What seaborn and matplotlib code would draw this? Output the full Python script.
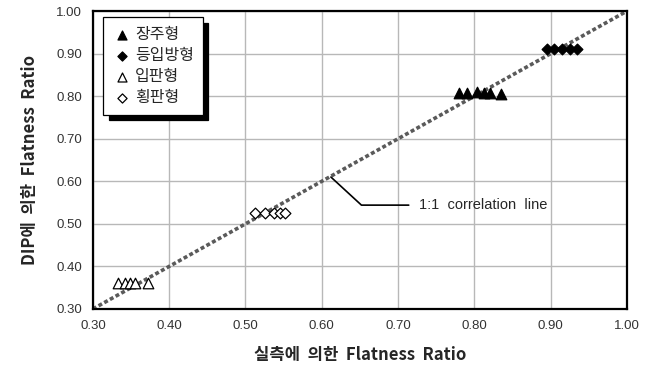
import matplotlib.pyplot as plt
import seaborn as sns
import pandas as pd
import numpy as np

# 장주형 (filled triangles)
jangju_x = [0.780, 0.790, 0.803, 0.812, 0.820, 0.835]
jangju_y = [0.808, 0.808, 0.810, 0.808, 0.808, 0.806]
# 등입방형 (filled diamonds)
deung_x = [0.895, 0.905, 0.915, 0.925, 0.935]
deung_y = [0.910, 0.910, 0.910, 0.910, 0.910]
# 입판형 (open triangles)
ippan_x = [0.333, 0.342, 0.348, 0.355, 0.372]
ippan_y = [0.362, 0.362, 0.362, 0.362, 0.362]
# 횡판형 (open diamonds)
hoeng_x = [0.512, 0.525, 0.538, 0.545, 0.552]
hoeng_y = [0.525, 0.525, 0.525, 0.525, 0.525]

ticks = [0.30, 0.40, 0.50, 0.60, 0.70, 0.80, 0.90, 1.00]

sns.set_style("white")
plt.rcParams['font.family'] = ['Noto Sans CJK KR', 'DejaVu Sans']

fig = plt.figure(figsize=(6.45, 3.7), dpi=100)
ax = fig.add_axes([0.144, 0.165, 0.828, 0.805])

groups = [
    ("장주형", jangju_x, jangju_y, "^", "black", 58),
    ("등입방형", deung_x, deung_y, "D", "black", 30),
    ("입판형", ippan_x, ippan_y, "^", "white", 58),
    ("횡판형", hoeng_x, hoeng_y, "D", "white", 30),
]

# 1:1 line
ax.plot([0.3, 1.0], [0.3, 1.0], color="#5a5a5a", lw=2.6,
        dashes=(1.1, 0.7), zorder=2)

for name, xs, ys, mk, fc, s in groups:
    df = pd.DataFrame({"x": xs, "y": ys})
    sns.scatterplot(data=df, x="x", y="y", marker=mk, s=s, color=fc,
                    edgecolor="black", linewidth=0.9, ax=ax, label=name,
                    zorder=3)

ax.set_xlim(0.3, 1.0)
ax.set_ylim(0.3, 1.0)
ax.set_xticks(ticks)
ax.set_yticks(ticks)
ax.set_xticklabels([f"{t:.2f}" for t in ticks], color="#333333", fontsize=9.5,
                   family=['Liberation Sans', 'DejaVu Sans'])
ax.set_yticklabels([f"{t:.2f}" for t in ticks], color="#333333", fontsize=9.5,
                   family=['Liberation Sans', 'DejaVu Sans'])
ax.tick_params(axis='both', length=0, pad=8)
ax.grid(True, color="#b8b8b8", lw=1.0)
for sp in ax.spines.values():
    sp.set_color("black")
    sp.set_linewidth(1.6)

ax.set_xlabel("실측에  의한  Flatness  Ratio", fontsize=12, fontweight="bold",
              labelpad=10)
ax.set_ylabel("DIP에  의한  Flatness  Ratio", fontsize=12, fontweight="bold",
              labelpad=12)

# annotation for 1:1 line
ax.plot([0.612, 0.652, 0.714], [0.610, 0.544, 0.544], color="black", lw=1.2,
        zorder=4)
ax.text(0.728, 0.544, "1:1  correlation  line", fontsize=10.5, va="center",
        ha="left", family=['Liberation Sans', 'DejaVu Sans'])

leg = ax.legend(loc="upper left", bbox_to_anchor=(0.01, 0.995),
                frameon=True, fancybox=False, edgecolor="black",
                shadow={'color': 'black', 'alpha': 1.0, 'ox': 4, 'oy': -4},
                fontsize=11.5, handletextpad=0.15, handlelength=1.3,
                labelspacing=0.25, borderpad=0.55, markerscale=0.85,
                borderaxespad=0.3)
leg.get_frame().set_linewidth(0.9)

fig.savefig("out.png", dpi=100)
